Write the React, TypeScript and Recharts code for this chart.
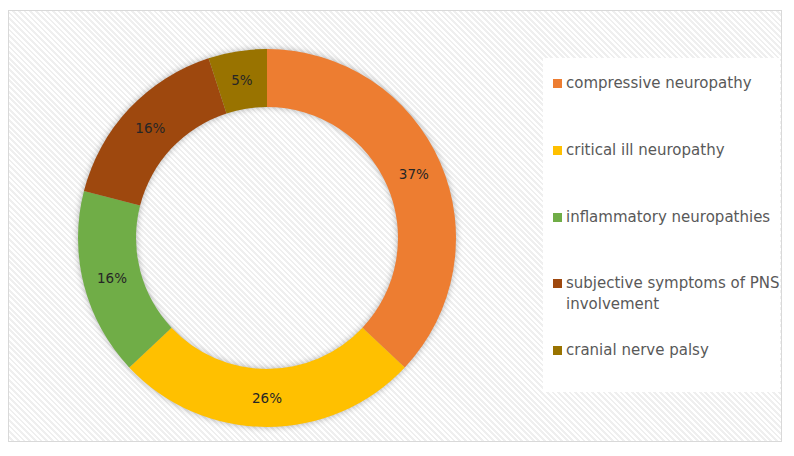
import { PieChart, Pie, Cell, Legend } from 'recharts'

const CATEGORIES = [
  'compressive neuropathy',
  'critical ill neuropathy',
  'inflammatory neuropathies',
  'subjective symptoms of PNS involvement',
  'cranial nerve palsy',
]
const VALUES = [37, 26, 16, 16, 5]
const COLORS = ['#ED7D31', '#FFC000', '#70AD47', '#9E480E', '#997300']

const data = CATEGORIES.map((name, i) => ({ name, value: VALUES[i], color: COLORS[i] }))

const FONT = '"DejaVu Sans", sans-serif'
const RAD = Math.PI / 180

function renderLabel(props: any) {
  const { cx, cy, midAngle, innerRadius, outerRadius, value } = props
  const r = (innerRadius + outerRadius) / 2
  const x = cx + r * Math.cos(-midAngle * RAD)
  const y = cy + r * Math.sin(-midAngle * RAD)
  return (
    <text
      x={x}
      y={y}
      textAnchor="middle"
      dominantBaseline="central"
      fill="#262626"
      fontSize={13.5}
      fontFamily={FONT}
    >
      {value}%
    </text>
  )
}

function LegendBox() {
  return (
    <div style={{ position: 'relative', width: 237, height: 334, background: '#fff' }}>
      {data.map((d, i) => (
        <div
          key={d.name}
          style={{
            position: 'absolute',
            left: 10,
            top: 25 + i * 66.8 - 10,
            display: 'flex',
            alignItems: 'flex-start',
            fontFamily: FONT,
            fontSize: 15,
            lineHeight: '21px',
            color: '#595959',
          }}
        >
          <span
            style={{
              display: 'inline-block',
              width: 9,
              height: 9,
              marginTop: 6,
              marginRight: 4,
              background: d.color,
            }}
          />
          <span style={{ width: 222 }}>{d.name}</span>
        </div>
      ))}
    </div>
  )
}

export default function App() {
  return (
    <div
      style={{
        position: 'relative',
        marginTop: 2,
        width: 772,
        height: 430,
        border: '1px solid #d9d9d9',
        background:
          'repeating-linear-gradient(45deg, #ffffff 0px, #ffffff 2px, #efefef 2px, #efefef 4px)',
      }}
    >
      <style>{`.donut .recharts-pie { filter: drop-shadow(0 0 3px rgba(0,0,0,0.3)); }`}</style>
      <PieChart
        className="donut"
        width={772}
        height={430}
        margin={{ top: 0, right: 0, bottom: 0, left: 0 }}
      >
        <Pie
          data={data}
          dataKey="value"
          nameKey="name"
          cx={258}
          cy={227}
          innerRadius={131}
          outerRadius={189}
          startAngle={90}
          endAngle={-270}
          stroke="none"
          label={renderLabel}
          labelLine={false}
          isAnimationActive={false}
        >
          {data.map((d) => (
            <Cell key={d.name} fill={d.color} />
          ))}
        </Pie>
        <Legend
          content={() => <LegendBox />}
          wrapperStyle={{ left: 534, top: 47, width: 237, height: 334 }}
        />
      </PieChart>
    </div>
  )
}
